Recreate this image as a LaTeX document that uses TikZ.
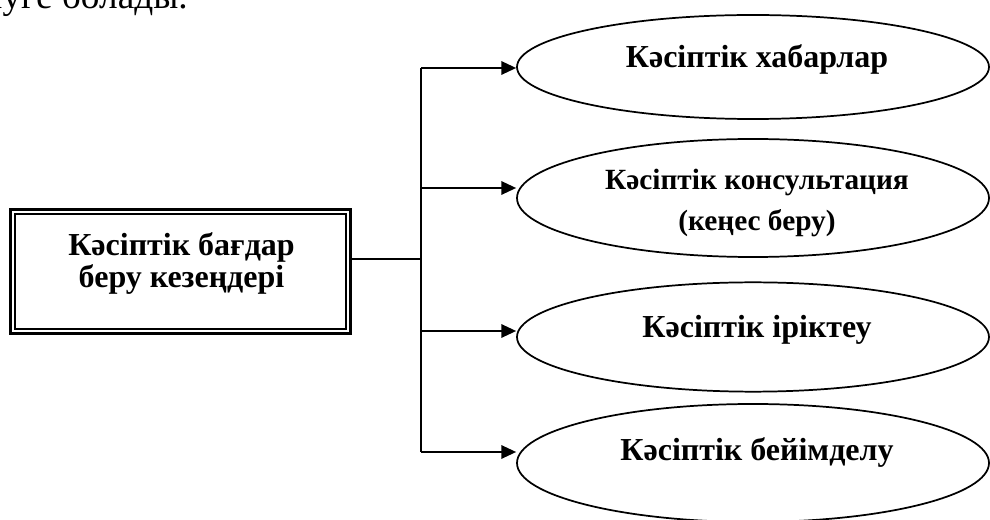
\documentclass[tikz,border=0pt]{standalone}
\usepackage{fontspec}
\setmainfont{Liberation Serif}
\usetikzlibrary{shapes.geometric,arrows.meta}

\begin{document}
\begin{tikzpicture}[x=0.75pt,y=-0.75pt]
\tikzstyle{every node}+=[inner sep=0pt]
\tikzstyle{stage}=[draw,ellipse,line width=1.3pt,minimum width=354pt]
\tikzstyle{lbl}=[font=\fontsize{24}{24}\selectfont\bfseries,align=center]
\tikzstyle{link}=[line width=1.3pt]
\tikzstyle{arr}=[link,-{Triangle[length=11pt,width=10pt]}]
\clip (0,0) rectangle (990,520);
\node [anchor=base east,font=\fontsize{28}{28}\selectfont] (prev) at (188,9) {бөлуге болады.};
\node [draw,line width=2.5pt,outer sep=0pt,minimum width=254.7pt,minimum height=92.7pt] (box) at (180.5,271.5) {};
\draw [line width=1.5pt] ([xshift=3.2pt,yshift=-3.2pt]box.north west) rectangle ([xshift=-3.2pt,yshift=3.2pt]box.south east);
\node [lbl] (boxtext) at (181.5,263.5) {Кәсіптік бағдар\\беру кезеңдері};
\node [stage,minimum height=78pt] (e1) at (753,67) {};
\node [stage,minimum height=88.5pt] (e2) at (753,198) {};
\node [stage,minimum height=82pt] (e3) at (753,337) {};
\node [stage,minimum height=88.5pt] (e4) at (753,463) {};
\node [lbl,anchor=base] (t1) at (757,68) {Кәсіптік хабарлар};
\node [lbl,font=\fontsize{22}{31}\selectfont\bfseries] (t2) at (757,203) {Кәсіптік консультация\\(кеңес беру)};
\node [lbl,anchor=base] (t3) at (757,338) {Кәсіптік іріктеу};
\node [lbl,anchor=base] (t4) at (757,460) {Кәсіптік бейімделу};
\coordinate (fork) at (421,259);
\coordinate (b1) at (421,68);
\coordinate (b2) at (421,188);
\coordinate (b3) at (421,331);
\coordinate (b4) at (421,452);
\draw [link] (box.east |- fork) -- (fork);
\draw [link] (b1) -- (b4);
\draw [arr] (b1) -- (b1 -| e1.west);
\draw [arr] (b2) -- (b2 -| e2.west);
\draw [arr] (b3) -- (b3 -| e3.west);
\draw [arr] (b4) -- (b4 -| e4.west);
\end{tikzpicture}
\end{document}
